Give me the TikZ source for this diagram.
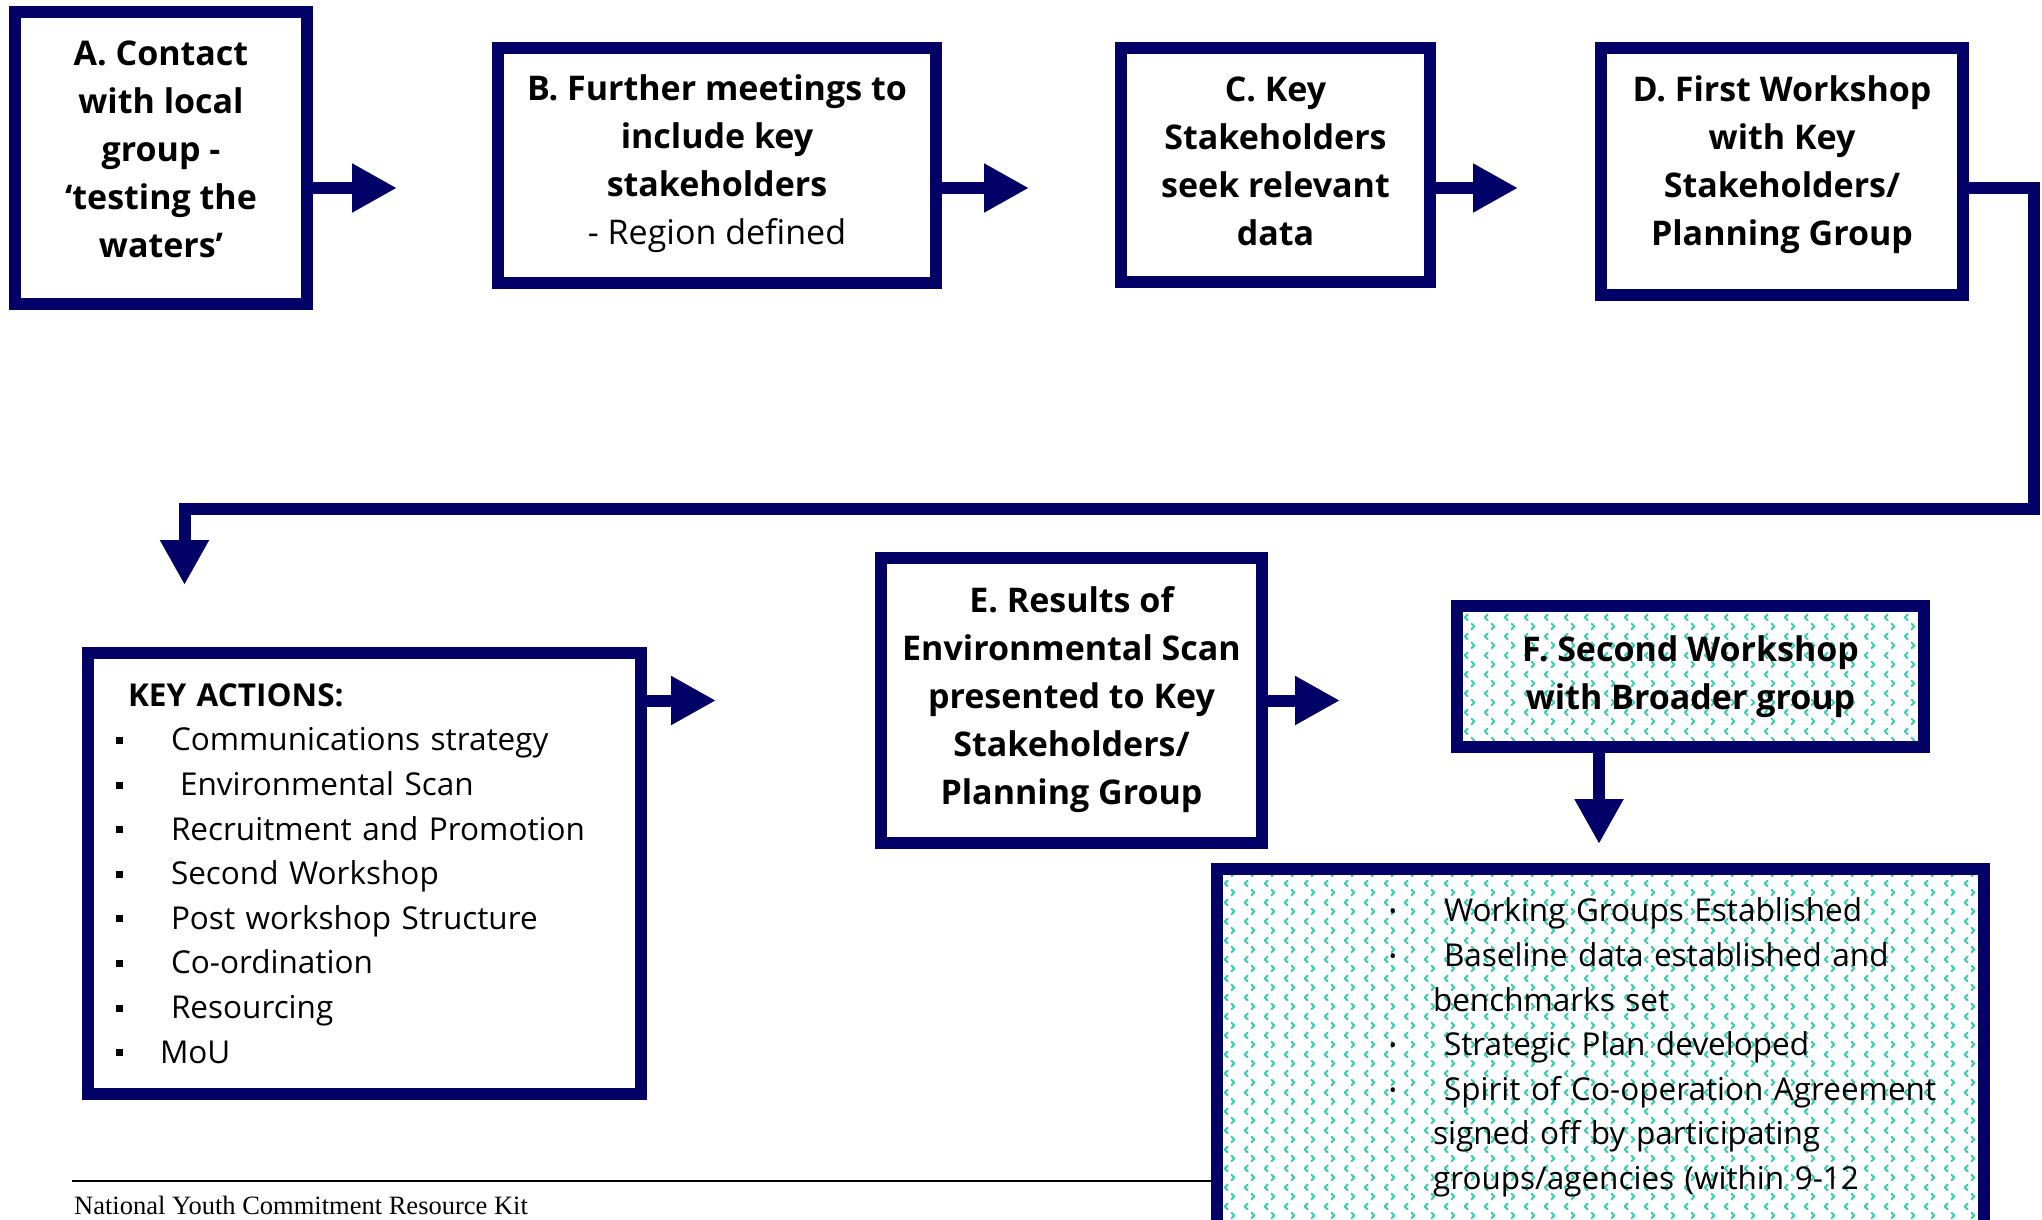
\documentclass[tikz,border=0pt]{standalone}
\usepackage{fontspec}
\setmainfont{Open Sans}
\newfontfamily\footfont{Liberation Serif}
\usetikzlibrary{arrows.meta,patterns}
\definecolor{navy}{RGB}{0,0,102}
\definecolor{mint}{RGB}{50,205,175}
\pgfdeclarepatternformonly{chev}{\pgfqpoint{0pt}{0pt}}{\pgfqpoint{20pt}{19pt}}{\pgfqpoint{20pt}{19pt}}{%
  \pgfsetlinewidth{2pt}\pgfsetroundcap\pgfsetroundjoin
  \pgfpathmoveto{\pgfqpoint{8pt}{17.25pt}}\pgfpathlineto{\pgfqpoint{5pt}{14.25pt}}\pgfpathlineto{\pgfqpoint{8pt}{11.25pt}}\pgfusepath{stroke}%
  \pgfpathmoveto{\pgfqpoint{12pt}{7.75pt}}\pgfpathlineto{\pgfqpoint{15pt}{4.75pt}}\pgfpathlineto{\pgfqpoint{12pt}{1.75pt}}\pgfusepath{stroke}%
}
\newcommand\kbul{\raisebox{7pt}{\rule{7pt}{7pt}}}
\newcommand\gbul{\makebox[55pt][l]{\raisebox{3pt}{\fontsize{20}{20}\selectfont •}}}
\newcommand\upbox[2]{\raisebox{#1}[\height][\depth]{\begin{tabular}{@{}c@{}}#2\end{tabular}}}
\begin{document}
\begin{tikzpicture}[x=1pt,y=-1pt,
  box/.style={draw=navy, line width=12pt, fill=white, inner sep=0pt, align=center,
    font=\fontsize{34}{48}\selectfont\bfseries},
  listbox/.style={draw=navy, line width=12pt, fill=white, inner sep=0pt, align=left,
    font=\fontsize{31.5}{44.6}\selectfont},
  pat/.style={preaction={fill=white}, pattern=chev, pattern color=mint},
  flow/.style={draw=navy, line width=12pt, -{Triangle[length=45pt,width=46pt]}, line join=miter}]
\useasboundingbox (0,0) rectangle (2042,1220);

% footer
\draw[line width=1.5pt] (72,1181) -- (1220,1181);
\node[anchor=base west, inner sep=0pt, font=\footfont\fontsize{26.5}{26.5}\selectfont] (foot) at (74,1214) {National Youth Commitment Resource Kit};

% boxes
\node[box, minimum width=292pt, minimum height=292pt] (A) at (161,158)
  {\upbox{6pt}{A. Contact\\with local\\group -\\‘testing the\\waters’}};
\node[box, minimum width=438pt, minimum height=235pt] (B) at (717,165.5)
  {\upbox{3pt}{B. Further meetings to\\include key\\stakeholders\\\mdseries - Region defined}};
\node[box, minimum width=309pt, minimum height=234pt] (C) at (1275.5,165)
  {\upbox{1pt}{C. Key\\Stakeholders\\seek relevant\\data}};
\node[box, minimum width=362pt, minimum height=247pt] (D) at (1782,171.5)
  {\upbox{8pt}{D. First Workshop\\with Key\\Stakeholders/\\Planning Group}};

\node[listbox, minimum width=553pt, minimum height=441pt, text width=553pt] (K) at (364.5,873.5)
  {\hspace*{40pt}{\bfseries KEY ACTIONS:}\\
   \hspace*{28pt}\kbul\hspace*{48pt}Communications strategy\\
   \hspace*{28pt}\kbul\hspace*{57pt}Environmental Scan\\
   \hspace*{28pt}\kbul\hspace*{48pt}Recruitment and Promotion\\
   \hspace*{28pt}\kbul\hspace*{48pt}Second Workshop\\
   \hspace*{28pt}\kbul\hspace*{48pt}Post workshop Structure\\
   \hspace*{28pt}\kbul\hspace*{48pt}Co-ordination\\
   \hspace*{28pt}\kbul\hspace*{48pt}Resourcing\\
   \hspace*{28pt}\kbul\hspace*{37pt}MoU};

\node[box, minimum width=381pt, minimum height=285pt] (E) at (1071.5,700.5)
  {\upbox{2pt}{E. Results of\\Environmental Scan\\presented to Key\\Stakeholders/\\Planning Group}};

\node[box, pat, minimum width=467pt, minimum height=141pt] (F) at (1690.5,676.5)
  {\upbox{1pt}{F. Second Workshop\\with Broader group}};

\node[listbox, pat, minimum width=767pt, minimum height=357pt, text width=767pt] (G) at (1600.5,1047.5)
  {\hspace*{172pt}\gbul Working Groups Established\\
   \hspace*{172pt}\gbul Baseline data established and\\
   \hspace*{216pt}benchmarks set\\
   \hspace*{172pt}\gbul Strategic Plan developed\\
   \hspace*{172pt}\gbul Spirit of Co-operation Agreement\\
   \hspace*{216pt}signed off by participating\\
   \hspace*{216pt}groups/agencies (within 9-12};

% arrow tips
\coordinate (tAB) at (397,188);
\coordinate (tBC) at (1029,188);
\coordinate (tCD) at (1518,188);
\coordinate (loopR) at (2034,509);
\coordinate (tDK) at (184.5,585);
\coordinate (tKE) at (716,700.5);
\coordinate (tEF) at (1340,700.5);
\coordinate (tFG) at (1599,844);

\draw[flow] (tAB -| A.east) -- (tAB);
\draw[flow] (tBC -| B.east) -- (tBC);
\draw[flow] (tCD -| C.east) -- (tCD);
\draw[flow] (tAB -| D.east) -| (loopR) -| (tDK);
\draw[flow] (tKE -| K.east) -- (tKE);
\draw[flow] (tEF -| E.east) -- (tEF);
\draw[flow] (tFG |- F.south) -- (tFG);
\end{tikzpicture}
\end{document}
